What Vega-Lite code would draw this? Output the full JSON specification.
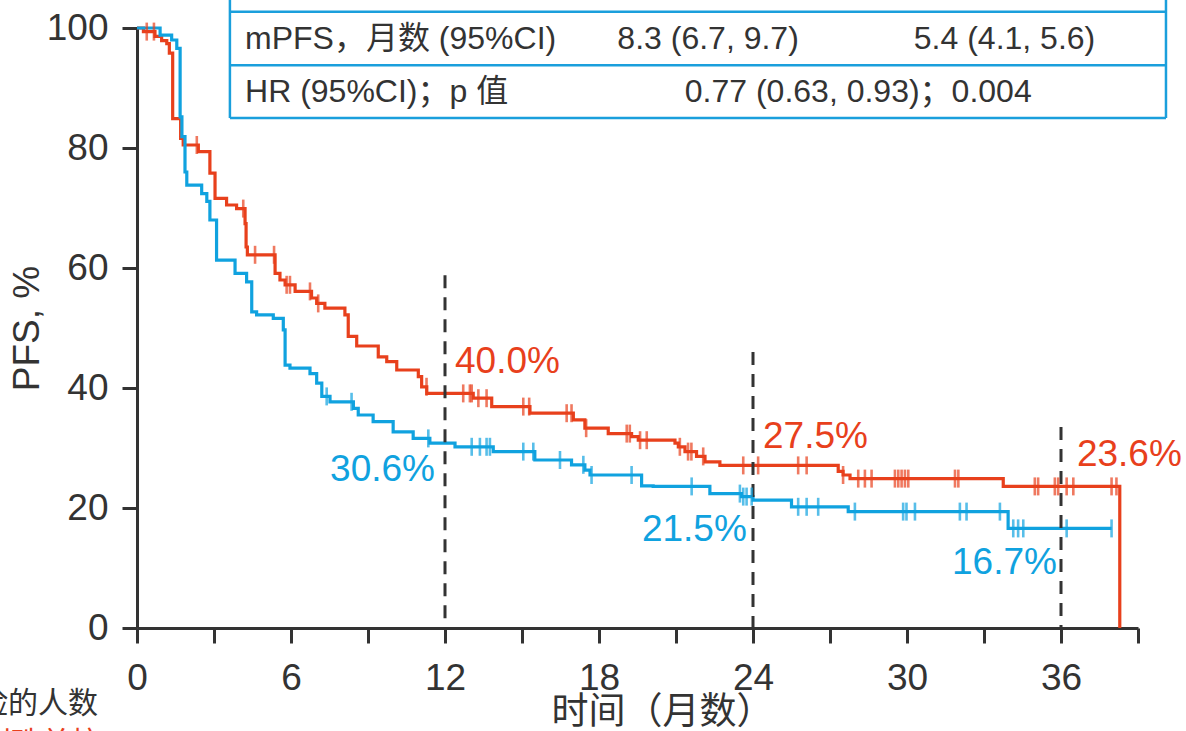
{
  "$schema": "https://vega.github.io/schema/vega-lite/v6.json",
  "width": 1001,
  "height": 600,
  "autosize": "none",
  "padding": {"left": 137, "top": 28, "right": 48, "bottom": 103},
  "background": "white",
  "config": {
    "view": {"stroke": null},
    "axis": {
      "domainColor": "#333333", "domainWidth": 3, "tickColor": "#333333", "tickWidth": 3, "tickSize": 15,
      "labelFont": "Liberation Sans", "labelFontSize": 37, "labelColor": "#333333",
      "titleFont": "Liberation Sans", "titleFontSize": 37, "titleColor": "#333333", "titleFontWeight": "normal",
      "grid": false
    }
  },
  "datasets": {
    "km": [
      {"arm": "研究组", "t": 0, "s": 100}, {"arm": "研究组", "t": 0.25, "s": 99.4}, {"arm": "研究组", "t": 0.7, "s": 98.6},
      {"arm": "研究组", "t": 0.96, "s": 97.9}, {"arm": "研究组", "t": 1.16, "s": 97.4}, {"arm": "研究组", "t": 1.26, "s": 95.8},
      {"arm": "研究组", "t": 1.39, "s": 84.9}, {"arm": "研究组", "t": 1.7, "s": 81.6}, {"arm": "研究组", "t": 1.8, "s": 80.5},
      {"arm": "研究组", "t": 2.39, "s": 79.4}, {"arm": "研究组", "t": 2.84, "s": 75.8}, {"arm": "研究组", "t": 3.04, "s": 71.6},
      {"arm": "研究组", "t": 3.49, "s": 70.5}, {"arm": "研究组", "t": 3.88, "s": 69.9}, {"arm": "研究组", "t": 4.21, "s": 67.4},
      {"arm": "研究组", "t": 4.25, "s": 63.5}, {"arm": "研究组", "t": 4.3, "s": 62.2}, {"arm": "研究组", "t": 5.38, "s": 59.1},
      {"arm": "研究组", "t": 5.57, "s": 58.0}, {"arm": "研究组", "t": 5.77, "s": 57.2}, {"arm": "研究组", "t": 6.16, "s": 56.1},
      {"arm": "研究组", "t": 6.8, "s": 55.0}, {"arm": "研究组", "t": 7.0, "s": 54.1}, {"arm": "研究组", "t": 7.32, "s": 53.3},
      {"arm": "研究组", "t": 8.1, "s": 52.2}, {"arm": "研究组", "t": 8.23, "s": 48.6}, {"arm": "研究组", "t": 8.56, "s": 47.0},
      {"arm": "研究组", "t": 9.4, "s": 45.2}, {"arm": "研究组", "t": 9.73, "s": 44.4}, {"arm": "研究组", "t": 10.12, "s": 43.0},
      {"arm": "研究组", "t": 10.96, "s": 41.9}, {"arm": "研究组", "t": 11.09, "s": 40.2}, {"arm": "研究组", "t": 11.29, "s": 39.1},
      {"arm": "研究组", "t": 13.1, "s": 38.3}, {"arm": "研究组", "t": 13.82, "s": 36.9}, {"arm": "研究组", "t": 15.31, "s": 35.8},
      {"arm": "研究组", "t": 17.0, "s": 34.7}, {"arm": "研究组", "t": 17.45, "s": 33.3}, {"arm": "研究组", "t": 18.36, "s": 32.4},
      {"arm": "研究组", "t": 19.27, "s": 31.9}, {"arm": "研究组", "t": 19.53, "s": 31.3}, {"arm": "研究组", "t": 20.96, "s": 30.8},
      {"arm": "研究组", "t": 21.09, "s": 30.2}, {"arm": "研究组", "t": 21.35, "s": 29.4}, {"arm": "研究组", "t": 21.8, "s": 28.6},
      {"arm": "研究组", "t": 22.13, "s": 27.7}, {"arm": "研究组", "t": 22.71, "s": 27.1}, {"arm": "研究组", "t": 27.32, "s": 26.1},
      {"arm": "研究组", "t": 27.51, "s": 25.5}, {"arm": "研究组", "t": 27.78, "s": 24.9}, {"arm": "研究组", "t": 33.75, "s": 23.6},
      {"arm": "研究组", "t": 38.29, "s": 0},
      {"arm": "对照组", "t": 0, "s": 100}, {"arm": "对照组", "t": 0.9, "s": 98.8}, {"arm": "对照组", "t": 1.35, "s": 98.0},
      {"arm": "对照组", "t": 1.55, "s": 96.6}, {"arm": "对照组", "t": 1.68, "s": 85.2}, {"arm": "对照组", "t": 1.75, "s": 81.9},
      {"arm": "对照组", "t": 1.87, "s": 76.0}, {"arm": "对照组", "t": 1.94, "s": 73.8}, {"arm": "对照组", "t": 2.52, "s": 72.4},
      {"arm": "对照组", "t": 2.72, "s": 71.1}, {"arm": "对照组", "t": 2.84, "s": 68.0}, {"arm": "对照组", "t": 3.1, "s": 61.3},
      {"arm": "对照组", "t": 3.82, "s": 59.1}, {"arm": "对照组", "t": 4.27, "s": 57.7}, {"arm": "对照组", "t": 4.47, "s": 52.7},
      {"arm": "对照组", "t": 4.66, "s": 52.2}, {"arm": "对照组", "t": 5.31, "s": 51.6}, {"arm": "对照组", "t": 5.7, "s": 49.7},
      {"arm": "对照组", "t": 5.77, "s": 43.8}, {"arm": "对照组", "t": 5.96, "s": 43.3}, {"arm": "对照组", "t": 6.74, "s": 42.4},
      {"arm": "对照组", "t": 7.0, "s": 40.8}, {"arm": "对照组", "t": 7.2, "s": 38.6}, {"arm": "对照组", "t": 7.52, "s": 37.7},
      {"arm": "对照组", "t": 8.43, "s": 36.6}, {"arm": "对照组", "t": 8.62, "s": 35.5}, {"arm": "对照组", "t": 9.2, "s": 34.4},
      {"arm": "对照组", "t": 9.98, "s": 32.7}, {"arm": "对照组", "t": 10.76, "s": 31.6}, {"arm": "对照组", "t": 11.41, "s": 30.8},
      {"arm": "对照组", "t": 12.39, "s": 30.2}, {"arm": "对照组", "t": 13.88, "s": 29.4}, {"arm": "对照组", "t": 15.5, "s": 28.0},
      {"arm": "对照组", "t": 16.93, "s": 27.2}, {"arm": "对照组", "t": 17.45, "s": 26.3}, {"arm": "对照组", "t": 17.65, "s": 25.5},
      {"arm": "对照组", "t": 19.66, "s": 23.7}, {"arm": "对照组", "t": 20.11, "s": 23.6}, {"arm": "对照组", "t": 22.32, "s": 22.4},
      {"arm": "对照组", "t": 23.55, "s": 21.9}, {"arm": "对照组", "t": 24.0, "s": 21.3}, {"arm": "对照组", "t": 25.5, "s": 20.2},
      {"arm": "对照组", "t": 27.71, "s": 19.4}, {"arm": "对照组", "t": 33.94, "s": 16.6}, {"arm": "对照组", "t": 37.97, "s": 16.6}
    ],
    "censor": [
      {"arm": "研究组", "t": 0.38, "s": 99.4}, {"arm": "研究组", "t": 0.66, "s": 99.4}, {"arm": "研究组", "t": 2.33, "s": 80.5},
      {"arm": "研究组", "t": 4.14, "s": 69.9}, {"arm": "研究组", "t": 4.6, "s": 62.2}, {"arm": "研究组", "t": 5.34, "s": 62.2},
      {"arm": "研究组", "t": 5.83, "s": 57.2}, {"arm": "研究组", "t": 5.96, "s": 57.2}, {"arm": "研究组", "t": 6.74, "s": 56.1},
      {"arm": "研究组", "t": 7.06, "s": 54.1}, {"arm": "研究组", "t": 11.28, "s": 40.2}, {"arm": "研究组", "t": 12.71, "s": 39.1},
      {"arm": "研究组", "t": 12.97, "s": 39.1}, {"arm": "研究组", "t": 13.04, "s": 39.1}, {"arm": "研究组", "t": 13.3, "s": 38.3},
      {"arm": "研究组", "t": 13.62, "s": 38.3}, {"arm": "研究组", "t": 15.05, "s": 36.9}, {"arm": "研究组", "t": 15.28, "s": 36.9},
      {"arm": "研究组", "t": 16.74, "s": 35.8}, {"arm": "研究组", "t": 16.93, "s": 35.8}, {"arm": "研究组", "t": 17.5, "s": 33.3},
      {"arm": "研究组", "t": 19.08, "s": 32.4}, {"arm": "研究组", "t": 19.2, "s": 32.4}, {"arm": "研究组", "t": 19.6, "s": 31.3},
      {"arm": "研究组", "t": 19.86, "s": 31.3}, {"arm": "研究组", "t": 21.15, "s": 30.2}, {"arm": "研究组", "t": 21.47, "s": 29.4},
      {"arm": "研究组", "t": 21.6, "s": 29.4}, {"arm": "研究组", "t": 22.06, "s": 28.6}, {"arm": "研究组", "t": 23.62, "s": 27.1},
      {"arm": "研究组", "t": 24.2, "s": 27.1}, {"arm": "研究组", "t": 25.76, "s": 27.1}, {"arm": "研究组", "t": 26.09, "s": 27.1},
      {"arm": "研究组", "t": 27.51, "s": 25.5}, {"arm": "研究组", "t": 28.1, "s": 24.9}, {"arm": "研究组", "t": 28.36, "s": 24.9},
      {"arm": "研究组", "t": 28.62, "s": 24.9}, {"arm": "研究组", "t": 29.53, "s": 24.9}, {"arm": "研究组", "t": 29.66, "s": 24.9},
      {"arm": "研究组", "t": 29.79, "s": 24.9}, {"arm": "研究组", "t": 29.92, "s": 24.9}, {"arm": "研究组", "t": 30.05, "s": 24.9},
      {"arm": "研究组", "t": 31.87, "s": 24.9}, {"arm": "研究组", "t": 32.0, "s": 24.9}, {"arm": "研究组", "t": 34.98, "s": 23.6},
      {"arm": "研究组", "t": 35.11, "s": 23.6}, {"arm": "研究组", "t": 35.76, "s": 23.6}, {"arm": "研究组", "t": 35.89, "s": 23.6},
      {"arm": "研究组", "t": 36.22, "s": 23.6}, {"arm": "研究组", "t": 36.48, "s": 23.6}, {"arm": "研究组", "t": 37.97, "s": 23.6},
      {"arm": "研究组", "t": 38.16, "s": 23.6},
      {"arm": "对照组", "t": 7.39, "s": 38.6}, {"arm": "对照组", "t": 8.36, "s": 37.7}, {"arm": "对照组", "t": 11.35, "s": 31.6},
      {"arm": "对照组", "t": 13.04, "s": 30.2}, {"arm": "对照组", "t": 13.36, "s": 30.2}, {"arm": "对照组", "t": 13.62, "s": 30.2},
      {"arm": "对照组", "t": 13.75, "s": 30.2}, {"arm": "对照组", "t": 15.05, "s": 29.4}, {"arm": "对照组", "t": 15.44, "s": 29.4},
      {"arm": "对照组", "t": 16.48, "s": 28.0}, {"arm": "对照组", "t": 17.39, "s": 27.2}, {"arm": "对照组", "t": 17.71, "s": 25.5},
      {"arm": "对照组", "t": 19.27, "s": 25.5}, {"arm": "对照组", "t": 21.61, "s": 23.6}, {"arm": "对照组", "t": 23.49, "s": 22.4},
      {"arm": "对照组", "t": 23.62, "s": 21.9}, {"arm": "对照组", "t": 23.75, "s": 21.9}, {"arm": "对照组", "t": 23.95, "s": 21.9},
      {"arm": "对照组", "t": 25.76, "s": 20.2}, {"arm": "对照组", "t": 26.09, "s": 20.2}, {"arm": "对照组", "t": 26.54, "s": 20.2},
      {"arm": "对照组", "t": 27.97, "s": 19.4}, {"arm": "对照组", "t": 29.85, "s": 19.4}, {"arm": "对照组", "t": 29.98, "s": 19.4},
      {"arm": "对照组", "t": 30.31, "s": 19.4}, {"arm": "对照组", "t": 32.06, "s": 19.4}, {"arm": "对照组", "t": 32.32, "s": 19.4},
      {"arm": "对照组", "t": 33.62, "s": 19.4}, {"arm": "对照组", "t": 34.14, "s": 16.6}, {"arm": "对照组", "t": 34.33, "s": 16.6},
      {"arm": "对照组", "t": 34.53, "s": 16.6}, {"arm": "对照组", "t": 36.22, "s": 16.6}, {"arm": "对照组", "t": 37.97, "s": 16.6}
    ],
    "landmarks": [
      {"t": 12, "top": 58.8, "bottom": 0}, {"t": 24, "top": 46, "bottom": 0}, {"t": 36, "top": 33.5, "bottom": 0}
    ],
    "pct": [
      {"arm": "研究组", "t": 12.39, "s": 44.3, "label": "40.0%"},
      {"arm": "研究组", "t": 24.39, "s": 31.8, "label": "27.5%"},
      {"arm": "研究组", "t": 36.62, "s": 28.8, "label": "23.6%"},
      {"arm": "对照组", "t": 11.61, "s": 26.3, "label": "30.6%"},
      {"arm": "对照组", "t": 23.76, "s": 16.3, "label": "21.5%"},
      {"arm": "对照组", "t": 35.84, "s": 10.8, "label": "16.7%"}
    ],
    "tableLines": [
      {"x1": 3.62, "x2": 40.09, "y1": 102.7, "y2": 102.7},
      {"x1": 3.62, "x2": 40.09, "y1": 93.8, "y2": 93.8},
      {"x1": 3.62, "x2": 40.09, "y1": 85.0, "y2": 85.0},
      {"x1": 3.62, "x2": 3.62, "y1": 85.0, "y2": 110},
      {"x1": 40.09, "x2": 40.09, "y1": 85.0, "y2": 110}
    ],
    "tableLeft": [
      {"t": 4.21, "s": 98.2, "text": "mPFS，月数 (95%CI)"},
      {"t": 4.21, "s": 89.4, "text": "HR (95%CI)；p 值"}
    ],
    "tableCenter": [
      {"t": 22.25, "s": 98.2, "text": "8.3 (6.7, 9.7)"},
      {"t": 33.8, "s": 98.2, "text": "5.4 (4.1, 5.6)"},
      {"t": 28.1, "s": 89.4, "text": "0.77 (0.63, 0.93)；0.004"}
    ],
    "riskLabels": [
      {"t": -1.52, "s": -12.7, "text": "处于风险的人数", "arm": "灰"},
      {"t": -1.4, "s": -19.3, "text": "替雷利珠单抗", "arm": "研究组"}
    ]
  },
  "layer": [
    {
      "data": {"name": "km"},
      "mark": {"type": "line", "interpolate": "step-after", "strokeWidth": 3.2, "clip": false},
      "encoding": {
        "x": {
          "field": "t", "type": "quantitative",
          "scale": {"domain": [0, 39], "nice": false, "zero": false},
          "axis": {
            "title": "时间（月数）", "titleFont": "Noto Sans CJK SC", "titleFontSize": 37, "titlePadding": -2, "titleX": 525,
            "values": [0, 3, 6, 9, 12, 15, 18, 21, 24, 27, 30, 33, 36, 39],
            "labelExpr": "datum.value % 6 === 0 ? datum.label : ''",
            "labelPadding": 17, "labelFlush": false, "labelOverlap": false
          }
        },
        "y": {
          "field": "s", "type": "quantitative",
          "scale": {"domain": [0, 100], "nice": false},
          "axis": {"title": "PFS, %", "values": [0, 20, 40, 60, 80, 100], "labelPadding": 14, "titlePadding": 0}
        },
        "color": {
          "field": "arm", "type": "nominal",
          "scale": {"domain": ["研究组", "对照组", "灰"], "range": ["#e8401c", "#10a2df", "#333333"]},
          "legend": null
        }
      }
    },
    {
      "data": {"name": "landmarks"},
      "mark": {"type": "rule", "color": "#333333", "strokeWidth": 3, "strokeDash": [13, 9]},
      "encoding": {
        "x": {"field": "t", "type": "quantitative"},
        "y": {"field": "top", "type": "quantitative"},
        "y2": {"field": "bottom"}
      }
    },
    {
      "data": {"name": "tableLines"},
      "mark": {"type": "rule", "color": "#1a9fdc", "strokeWidth": 2.5, "clip": false},
      "encoding": {
        "x": {"field": "x1", "type": "quantitative"},
        "x2": {"field": "x2"},
        "y": {"field": "y1", "type": "quantitative"},
        "y2": {"field": "y2"}
      }
    },
    {
      "data": {"name": "tableLeft"},
      "mark": {"type": "text", "align": "left", "baseline": "middle", "font": "Liberation Sans, Noto Sans CJK SC", "fontSize": 32, "color": "#333333", "clip": false},
      "encoding": {
        "x": {"field": "t", "type": "quantitative"},
        "y": {"field": "s", "type": "quantitative"},
        "text": {"field": "text"}
      }
    },
    {
      "data": {"name": "tableCenter"},
      "mark": {"type": "text", "align": "center", "baseline": "middle", "font": "Liberation Sans, Noto Sans CJK SC", "fontSize": 32, "color": "#333333", "clip": false},
      "encoding": {
        "x": {"field": "t", "type": "quantitative"},
        "y": {"field": "s", "type": "quantitative"},
        "text": {"field": "text"}
      }
    },
    {
      "data": {"name": "censor"},
      "mark": {"type": "tick", "orient": "vertical", "size": 18, "thickness": 2.6},
      "encoding": {
        "x": {"field": "t", "type": "quantitative"},
        "y": {"field": "s", "type": "quantitative"},
        "color": {"field": "arm", "type": "nominal", "legend": null}
      }
    },
    {
      "data": {"name": "pct"},
      "transform": [{"filter": "datum.arm === '研究组'"}],
      "mark": {"type": "text", "align": "left", "baseline": "middle", "font": "Liberation Sans", "fontSize": 37},
      "encoding": {
        "x": {"field": "t", "type": "quantitative"},
        "y": {"field": "s", "type": "quantitative"},
        "text": {"field": "label"},
        "color": {"field": "arm", "type": "nominal", "legend": null}
      }
    },
    {
      "data": {"name": "pct"},
      "transform": [{"filter": "datum.arm === '对照组'"}],
      "mark": {"type": "text", "align": "right", "baseline": "middle", "font": "Liberation Sans", "fontSize": 37},
      "encoding": {
        "x": {"field": "t", "type": "quantitative"},
        "y": {"field": "s", "type": "quantitative"},
        "text": {"field": "label"},
        "color": {"field": "arm", "type": "nominal", "legend": null}
      }
    },
    {
      "data": {"name": "riskLabels"},
      "mark": {"type": "text", "align": "right", "baseline": "middle", "font": "Noto Sans CJK SC", "fontSize": 30, "clip": false},
      "encoding": {
        "x": {"field": "t", "type": "quantitative"},
        "y": {"field": "s", "type": "quantitative"},
        "text": {"field": "text"},
        "color": {"field": "arm", "type": "nominal", "legend": null}
      }
    }
  ]
}
